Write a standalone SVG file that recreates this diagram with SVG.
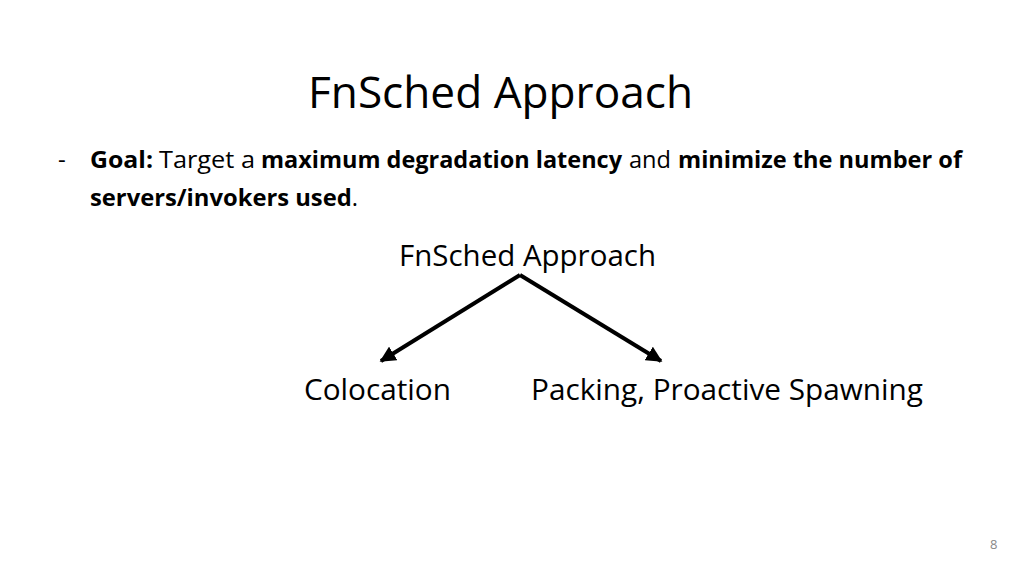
<svg xmlns="http://www.w3.org/2000/svg" width="1024" height="576" viewBox="0 0 1024 576">
<style>
text{font-family:"Open Sans","Liberation Sans",sans-serif;fill:#000}
.b{font-weight:bold}
.t{font-size:24px}
</style>
<defs>
<marker id="ah" viewBox="0 0 10 10" refX="9" refY="5" markerWidth="4" markerHeight="4" orient="auto" markerUnits="strokeWidth">
<path d="M0,0 L10,5 L0,10 z" fill="#000"/>
</marker>
</defs>
<rect width="1024" height="576" fill="#fff"/>
<g id="title"><text x="308" y="108" font-size="44" textLength="385" lengthAdjust="spacingAndGlyphs">FnSched Approach</text></g>
<g id="goal">
<text x="58" y="168" class="t">-</text>
<text x="90" y="168" class="t b" textLength="63" lengthAdjust="spacingAndGlyphs">Goal:</text>
<text x="159" y="168" class="t" textLength="96" lengthAdjust="spacingAndGlyphs">Target a</text>
<text x="261" y="168" class="t b" textLength="361" lengthAdjust="spacingAndGlyphs">maximum degradation latency</text>
<text x="629" y="168" class="t" textLength="42" lengthAdjust="spacingAndGlyphs">and</text>
<text x="678" y="168" class="t b" textLength="284" lengthAdjust="spacingAndGlyphs">minimize the number of</text>
<text x="90" y="206" class="t" textLength="268" lengthAdjust="spacingAndGlyphs"><tspan class="b">servers/invokers used</tspan>.</text>
</g>
<g id="root"><text x="399" y="266" font-size="30" textLength="257" lengthAdjust="spacingAndGlyphs">FnSched Approach</text></g>
<g id="colocation"><text x="304" y="400" font-size="30" textLength="147" lengthAdjust="spacingAndGlyphs">Colocation</text></g>
<g id="packing"><text x="531" y="400" font-size="30" textLength="392" lengthAdjust="spacingAndGlyphs">Packing, Proactive Spawning</text></g>
<g id="connectors" stroke="#000" stroke-width="4" fill="none">
<line x1="520" y1="275" x2="381" y2="361" marker-end="url(#ah)"/>
<line x1="520" y1="275" x2="661" y2="361" marker-end="url(#ah)"/>
</g>
<g id="page"><text x="990" y="549" font-size="13" style="fill:#888">8</text></g>
</svg>
